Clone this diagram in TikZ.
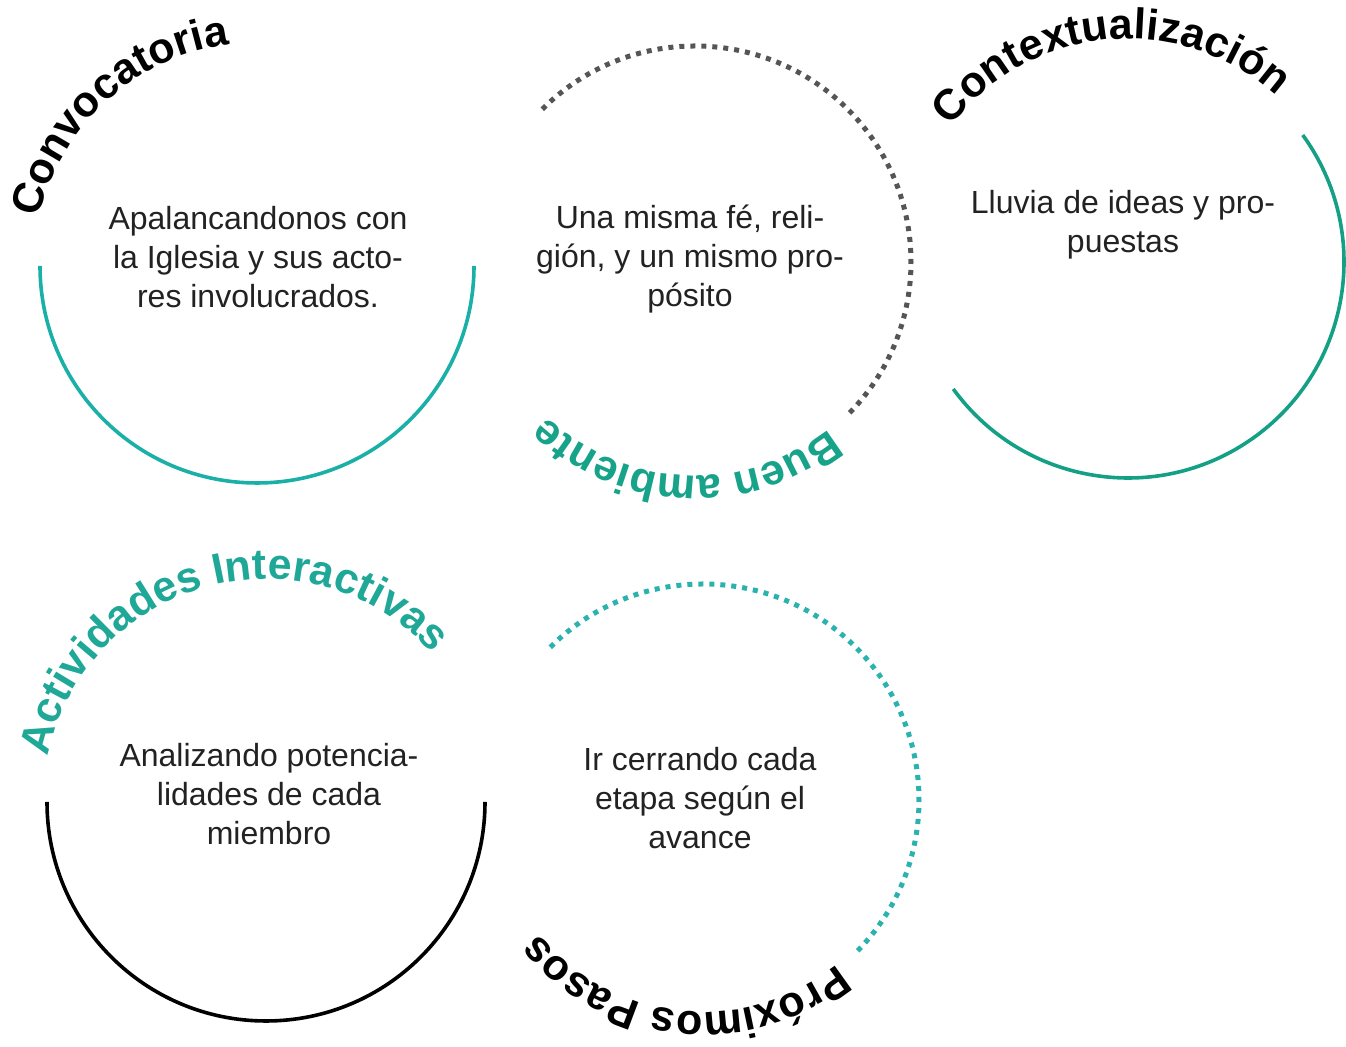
\documentclass[tikz,border=0pt]{standalone}
\usepackage{fontspec}
\setmainfont{Liberation Sans}
\usetikzlibrary{decorations.text}

\definecolor{ringteal}{HTML}{1AB0A8}
\definecolor{ringgreen}{HTML}{14A085}
\definecolor{dotteal}{HTML}{2AB2AE}
\definecolor{dotgray}{HTML}{555555}
\definecolor{titlegreen}{HTML}{17A38A}
\definecolor{titleteal}{HTML}{1FA898}
\definecolor{bodygray}{HTML}{222222}

\newcommand{\titlefont}{\bfseries\fontsize{21.5}{24}\selectfont}

\begin{document}
\begin{tikzpicture}[x=0.5pt, y=0.5pt,
  body/.style={align=center, text=bodygray, inner sep=0pt,
    font=\fontsize{16}{19.5}\selectfont},
  ring/.style={line width=1.8pt},
  dots/.style={line width=2.5pt, line cap=butt, dash pattern=on 2.5pt off 3pt},
  title/.style 2 args={decorate, decoration={text along path, text align=center,
    text color=#2, text={|\titlefont|#1}}}]
\useasboundingbox (0,0) rectangle (1346,1047);

\coordinate (convo) at (257,781);
\coordinate (buen) at (695,785);
\coordinate (contex) at (1128,785);
\coordinate (activ) at (266,245);
\coordinate (pasos) at (703,247);

\draw[ring, ringteal] (convo) ++(180:217) arc (180:360:217);
\draw[dots, dotgray] (buen) ++(135:216) arc (135:-45:216);
\draw[ring, ringgreen] (contex) ++(36:216) arc (36:-144:216);
\draw[ring, black] (activ) ++(180:219) arc (180:360:219);
\draw[dots, dotteal] (pasos) ++(135:216) arc (135:-45:216);

\path[title={Convocatoria}{black}] (convo) ++(212.3:223) arc (212.3:52.3:223);
\path[title={Buen ambiente}{titlegreen}] (buen) ++(-12.5:214) arc (-12.5:-172.5:214);
\path[title={Contextualización}{black}] (contex) ++(175.3:223) arc (175.3:15.3:223);
\path[title={Actividades Interactivas}{titleteal}] (activ) ++(185:223) arc (185:25:223);
\path[title={Próximos Pasos}{black}] (pasos) ++(-15.8:212) arc (-15.8:-175.8:212);

\node[body] (convotext) at (258,790) {Apalancandonos con\\la Iglesia y sus acto-\\res involucrados.};
\node[body] (buentext) at (690,788) {Una misma fé, reli-\\gión, y un mismo pro-\\pósito};
\node[body] (contextext) at (1123,822) {Lluvia de ideas y pro-\\puestas};
\node[body] (activtext) at (269,253) {Analizando potencia-\\lidades de cada\\miembro};
\node[body] (pasostext) at (700,249) {Ir cerrando cada\\etapa según el\\avance};
\end{tikzpicture}
\end{document}
